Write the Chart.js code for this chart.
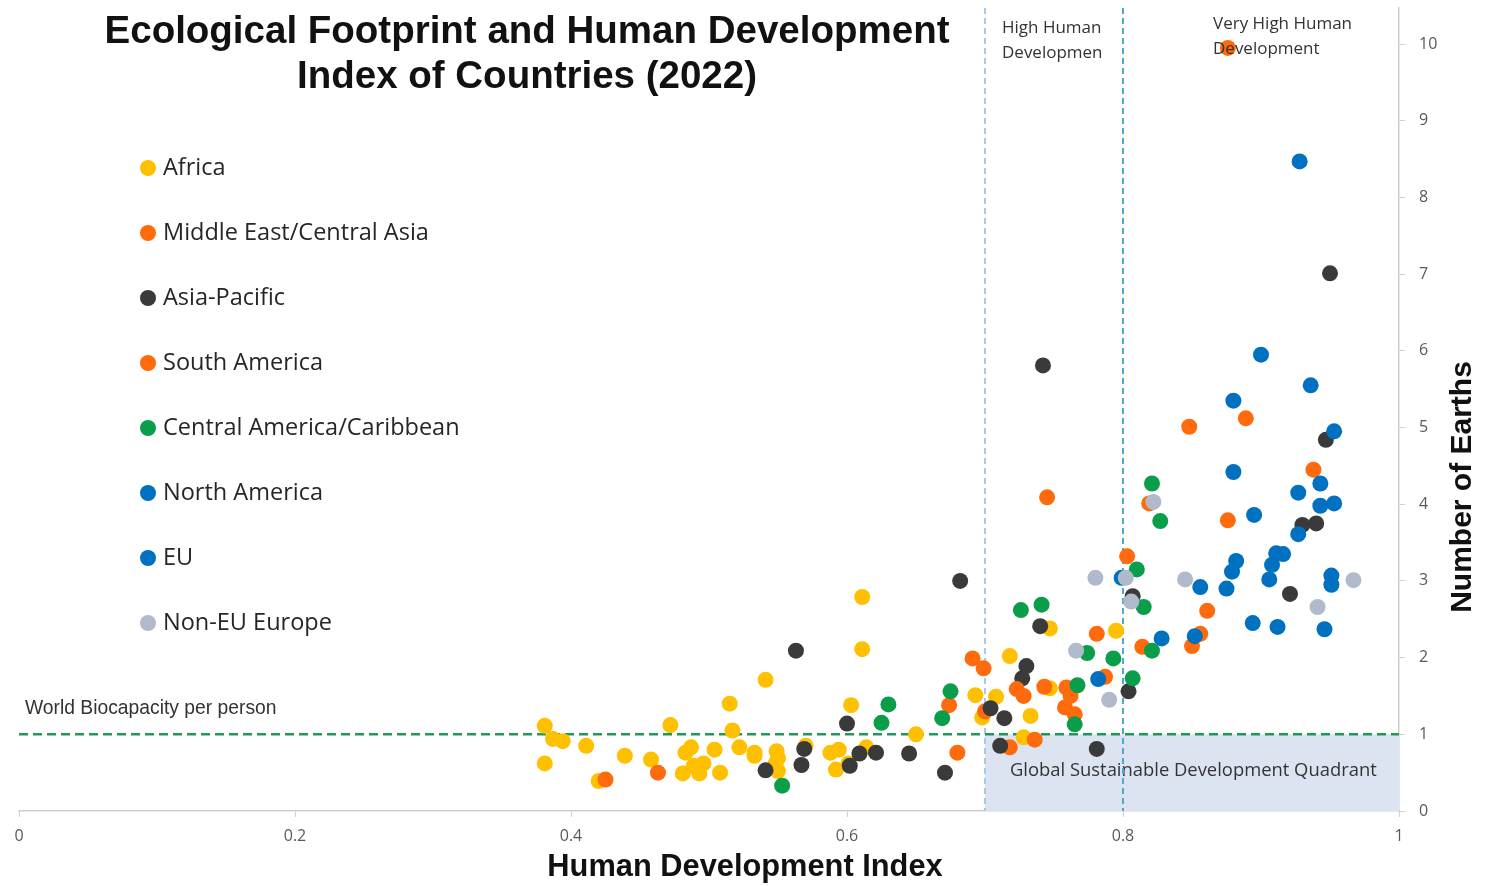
<!DOCTYPE html>
<html><head><meta charset="utf-8">
<script src="https://cdn.jsdelivr.net/npm/chart.js@4/dist/chart.umd.min.js"></script>
<style>html,body{margin:0;padding:0;background:#fff}#wrap{width:1499px;height:886px;position:relative}</style>
</head><body><div id="wrap"><canvas id="c"></canvas></div>
<script>
// ---------- DATA ----------
const titleLines = ["Ecological Footprint and Human Development", "Index of Countries (2022)"];
const categories = ["Africa","Middle East/Central Asia","Asia-Pacific","South America","Central America/Caribbean","North America","EU","Non-EU Europe"];
const colors = ["#FFC000","#FF6A0D","#3A3A3A","#FF6A0D","#0A9E4A","#0070C0","#0070C0","#B0BACB"];
const xTicks = [0,0.2,0.4,0.6,0.8,1];
const yTicks = [0,1,2,3,4,5,6,7,8,9,10];
const hdiThresholds = [0.7, 0.8];
const worldBiocapacity = 1;

const africa = [[0.381,1.11],[0.387,0.94],[0.394,0.91],[0.381,0.62],[0.411,0.85],[0.420,0.39],[0.439,0.72],[0.458,0.67],[0.472,1.12],[0.515,1.40],[0.517,1.05],[0.522,0.83],[0.483,0.76],[0.487,0.83],[0.504,0.80],[0.533,0.72],[0.481,0.49],[0.489,0.59],[0.496,0.62],[0.493,0.49],[0.508,0.50],[0.541,1.71],[0.611,2.79],[0.611,2.11],[0.603,1.38],[0.650,1.00],[0.533,0.76],[0.549,0.78],[0.550,0.69],[0.548,0.61],[0.550,0.52],[0.570,0.85],[0.588,0.76],[0.594,0.80],[0.592,0.54],[0.601,0.62],[0.614,0.83],[0.693,1.51],[0.708,1.49],[0.698,1.22],[0.718,2.02],[0.747,2.38],[0.747,1.60],[0.733,1.24],[0.728,0.96],[0.795,2.35]];
const middleEast = [[0.876,9.95],[0.889,5.12],[0.848,5.01],[0.938,4.45],[0.876,3.79],[0.745,4.09],[0.819,4.01],[0.803,3.32],[0.425,0.41],[0.463,0.50],[0.680,0.76],[0.674,1.38],[0.736,0.93],[0.718,0.83],[0.691,1.99],[0.699,1.86],[0.700,1.30]];
const asiaPacific = [[0.682,3.00],[0.563,2.09],[0.600,1.14],[0.541,0.53],[0.569,0.81],[0.567,0.60],[0.602,0.59],[0.609,0.75],[0.621,0.76],[0.645,0.75],[0.671,0.50],[0.704,1.34],[0.714,1.21],[0.730,1.89],[0.727,1.73],[0.740,2.41],[0.711,0.85],[0.781,0.81],[0.742,5.81],[0.807,2.80],[0.804,1.56],[0.947,4.84],[0.930,3.73],[0.940,3.75],[0.921,2.83],[0.950,7.01]];
const southAmerica = [[0.723,1.59],[0.728,1.50],[0.743,1.62],[0.759,1.61],[0.762,1.50],[0.758,1.35],[0.765,1.26],[0.781,2.31],[0.787,1.75],[0.861,2.61],[0.856,2.31],[0.850,2.15],[0.814,2.14]];
const centralAmerica = [[0.553,0.33],[0.630,1.39],[0.625,1.15],[0.669,1.21],[0.675,1.56],[0.726,2.62],[0.741,2.69],[0.767,1.64],[0.765,1.13],[0.774,2.06],[0.793,1.99],[0.821,4.27],[0.827,3.78],[0.810,3.15],[0.815,2.66],[0.821,2.09],[0.807,1.73]];
const northAmerica = [[0.936,5.55],[0.927,4.15],[0.782,1.72]];
const eu = [[0.799,3.04],[0.856,2.92],[0.875,2.90],[0.879,3.12],[0.882,3.26],[0.852,2.28],[0.828,2.25],[0.900,5.95],[0.880,5.35],[0.953,4.95],[0.880,4.42],[0.943,4.27],[0.943,3.98],[0.953,4.01],[0.895,3.86],[0.927,3.61],[0.911,3.36],[0.916,3.35],[0.908,3.21],[0.906,3.02],[0.951,3.07],[0.951,2.95],[0.894,2.45],[0.912,2.40],[0.946,2.37],[0.928,8.47]];
const nonEuEurope = [[0.766,2.09],[0.780,3.04],[0.790,1.45],[0.802,3.04],[0.806,2.73],[0.822,4.03],[0.845,3.02],[0.967,3.01],[0.941,2.66]];
const seriesValues = [africa, middleEast, asiaPacific, southAmerica, centralAmerica, northAmerica, eu, nonEuEurope];

// ---------- CHART ----------
const datasets = categories.map((name,i)=>({
  label:name,
  data: seriesValues[i].map(p=>({x:p[0],y:p[1]})),
  backgroundColor: colors[i],
  borderWidth:0,
  pointRadius:8,
  pointHoverRadius:8,
  order: categories.length - i
}));

const TXT = '#262626';
const overlay = {
  id:'overlay',
  beforeDatasetsDraw(chart){
    const {ctx, chartArea:a, scales:{x,y}} = chart;
    ctx.save();
    const qx0=x.getPixelForValue(hdiThresholds[0]), qx1=x.getPixelForValue(1);
    const qy0=y.getPixelForValue(worldBiocapacity), qy1=y.getPixelForValue(0);
    ctx.fillStyle='#DCE4F2';
    ctx.fillRect(qx0,qy0,qx1-qx0,qy1-qy0);
    ctx.fillStyle='#333';
    ctx.font='18.4px "Open Sans"';
    ctx.textBaseline='middle'; ctx.textAlign='left';
    ctx.fillText('Global Sustainable Development Quadrant', 1010, 771);
    const vcols=['#A6CBEA','#4FA9C9'];
    hdiThresholds.forEach((t,i)=>{
      const px=x.getPixelForValue(t);
      ctx.beginPath(); ctx.setLineDash([6,4]); ctx.lineWidth=2; ctx.strokeStyle=vcols[i];
      ctx.moveTo(px,a.top); ctx.lineTo(px,a.bottom); ctx.stroke();
    });
    const by=y.getPixelForValue(worldBiocapacity);
    ctx.beginPath(); ctx.setLineDash([9,5]); ctx.lineWidth=2.5; ctx.strokeStyle='#1E9A58';
    ctx.moveTo(a.left,by); ctx.lineTo(a.right,by); ctx.stroke();
    ctx.setLineDash([]);
    ctx.fillStyle='#333'; ctx.font='19.3px "Liberation Sans"';
    ctx.fillText('World Biocapacity per person', 25, 709);
    ctx.restore();
  },
  afterDatasetsDraw(chart){
    const {ctx} = chart;
    ctx.save();
    ctx.fillStyle='#333'; ctx.font='17px "Open Sans"'; ctx.textBaseline='middle'; ctx.textAlign='left';
    ctx.fillText('High Human', 1002, 28);
    ctx.fillText('Developmen', 1002, 53);
    ctx.fillText('Very High Human', 1213, 24);
    ctx.fillText('Development', 1213, 49);
    ctx.fillStyle='#111'; ctx.font='bold 38.5px "Liberation Sans"'; ctx.textAlign='center'; ctx.textBaseline='middle';
    ctx.fillText(titleLines[0], 527, 32);
    ctx.fillText(titleLines[1], 527, 77);
    ctx.textAlign='left'; ctx.textBaseline='middle'; ctx.font='23.5px "Open Sans"';
    categories.forEach((c,i)=>{
      const yy=168+i*65;
      ctx.beginPath(); ctx.fillStyle=colors[i]; ctx.arc(148,yy,8,0,Math.PI*2); ctx.fill();
      ctx.fillStyle=TXT; ctx.fillText(c,163,yy);
    });
    ctx.fillStyle='#111'; ctx.font='bold 30.8px "Liberation Sans"'; ctx.textAlign='center'; ctx.textBaseline='middle';
    ctx.fillText('Human Development Index', 745, 868);
    ctx.translate(1463,487); ctx.rotate(-Math.PI/2);
    ctx.font='bold 30px "Liberation Sans"';
    ctx.fillText('Number of Earths', 0, 0);
    ctx.restore();
  }
};

new Chart(document.getElementById('c'), {
  type:'scatter',
  data:{datasets},
  plugins:[overlay],
  options:{
    responsive:true, maintainAspectRatio:false, animation:false,
    layout:{padding:{left:19,top:3,right:0,bottom:0}},
    plugins:{legend:{display:false}, tooltip:{enabled:false}, title:{display:false}},
    scales:{
      x:{type:'linear', min:0, max:1,
        afterFit(s){s.height=75; s.paddingLeft=0; s.paddingRight=0;},
        afterBuildTicks(s){s.ticks=xTicks.map(v=>({value:v}));},
        grid:{drawOnChartArea:false, drawTicks:true, tickLength:6, color:'#CFCFCF'},
        border:{display:true,color:'#CFCFCF',width:1.5},
        ticks:{color:'#595959', font:{family:'"Open Sans"', size:16}, padding:10, maxRotation:0, callback:v=>String(v)}
      },
      y:{type:'linear', position:'right', min:0, max:10.47,
        afterFit(s){s.width=100; s.paddingTop=0; s.paddingBottom=0;},
        afterBuildTicks(s){s.ticks=yTicks.map(v=>({value:v}));},
        grid:{drawOnChartArea:false, drawTicks:true, tickLength:6, color:'#CFCFCF'},
        border:{display:true,color:'#CFCFCF',width:1.5},
        ticks:{color:'#595959', font:{family:'"Open Sans"', size:16}, padding:14, callback:v=>String(v)}
      }
    }
  }
});
</script></body></html>
